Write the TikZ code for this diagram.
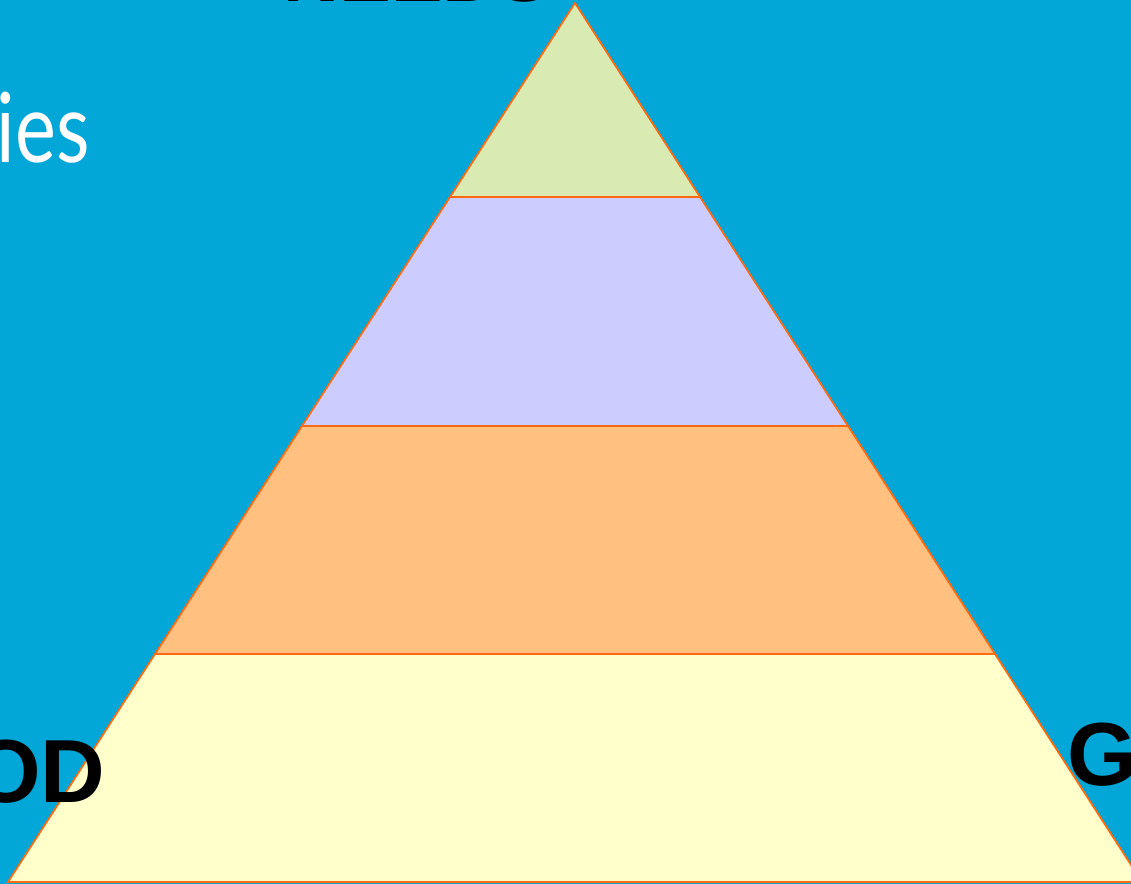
\documentclass[tikz,border=0pt]{standalone}
\usepackage{fontspec}
\setmainfont{Liberation Sans}
\newfontfamily\thinfont{Lato}
\usetikzlibrary{positioning}
\definecolor{slideblue}{HTML}{02A6D7}
\definecolor{bandline}{HTML}{FF6A10}
\definecolor{tipgreen}{HTML}{D9EBB3}
\definecolor{lilac}{HTML}{CCCCFF}
\definecolor{apricot}{HTML}{FFC080}
\definecolor{cream}{HTML}{FFFFCC}
\tikzset{
    % Band styles
    band/.style={draw=bandline, line width=1pt, line join=miter},
    % Text styles
    big label/.style={font=\fontsize{51}{51}\selectfont\bfseries, text=black, inner sep=0pt},
    title label/.style={big label, font=\fontsize{44}{44}\selectfont\bfseries},
    side label/.style={font=\thinfont\fontsize{55}{55}\selectfont, text=white, inner sep=0pt},
}

\begin{document}
\begin{tikzpicture}[x=0.02cm, y=-0.02cm]
    % Slide
    \useasboundingbox (0,0) rectangle (1131,884);
    \clip (0,0) rectangle (1131,884);
    \fill[slideblue] (0,0) rectangle (1131,884);

    % Corners of the bands
    \coordinate (apex) at (575,3);
    \coordinate (a1) at (450,197);  \coordinate (b1) at (700,197);
    \coordinate (a2) at (302,426);  \coordinate (b2) at (848,426);
    \coordinate (a3) at (155,654);  \coordinate (b3) at (995,654);
    \coordinate (a4) at (8,882);    \coordinate (b4) at (1142,882);

    % Bands
    \filldraw[band, fill=cream] (a3) -- (b3) -- (b4) -- (a4) -- cycle;
    \filldraw[band, fill=apricot] (a2) -- (b2) -- (b3) -- (a3) -- cycle;
    \filldraw[band, fill=lilac] (a1) -- (b1) -- (b2) -- (a2) -- cycle;
    \filldraw[band, fill=tipgreen] (apex) -- (b1) -- (a1) -- cycle;

    % Labels
    \node[title label, anchor=base] (title) at (417,2) {NEEDS};
    \node[side label, transform shape, xscale=0.8, anchor=base east] (ies) at (90,163) {ies};
    \node[big label, anchor=base east] (od) at (106,802) {OD};
    \node[big label, anchor=base west] (g) at (1067,785) {G};
\end{tikzpicture}
\end{document}
